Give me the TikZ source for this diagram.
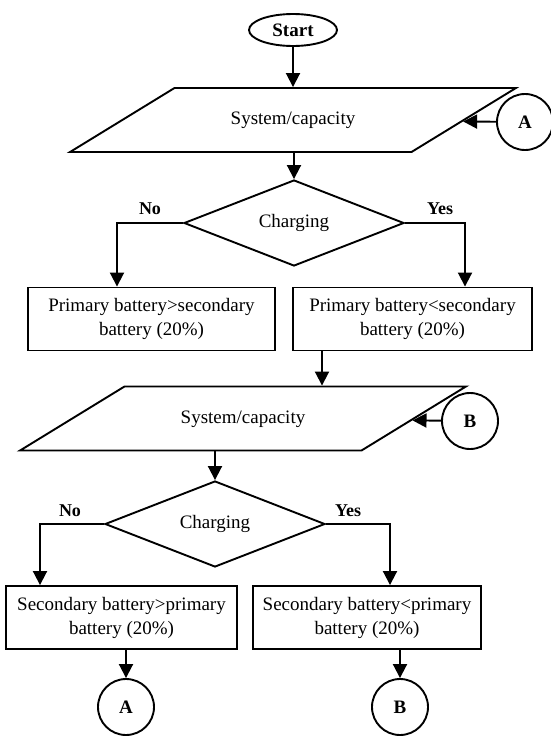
\documentclass[tikz,border=0pt]{standalone}
\usepackage{fontspec}
\setmainfont{Liberation Serif}
\usetikzlibrary{shapes.geometric,arrows.meta}

\begin{document}
\begin{tikzpicture}[x=1pt, y=-1pt, line width=1.9pt,
    every node/.style={font=\fontsize{19}{24}\selectfont},
    arr/.style={-{Triangle[width=14pt,length=14pt]}},
    terminal/.style={draw, ellipse, minimum width=88pt, minimum height=32pt, inner sep=0pt,
        font=\fontsize{19}{24}\selectfont\bfseries},
    io/.style={draw, trapezium, trapezium left angle=31.5, trapezium right angle=148.5,
        text width=125pt, align=center, text height=13pt, text depth=4pt,
        inner xsep=56pt, inner ysep=23.5pt},
    decision/.style={draw, diamond, aspect=2.56, minimum width=220pt, minimum height=86pt, inner sep=0pt},
    process/.style={draw, rectangle, align=center, minimum height=63pt},
    connector/.style={draw, circle, minimum size=56pt, inner sep=0pt,
        font=\fontsize{19}{24}\selectfont\bfseries},
    branch/.style={font=\fontsize{18}{22}\selectfont\bfseries}]
    \useasboundingbox (0, 0) rectangle (551, 736);

    % --- First stage (primary battery)
    \node[terminal] (start) at (293, 30) {Start};
    \node[io] (sys1) at (293, 120) {System/capacity};
    \node[connector] (A1) at (525, 122) {A};
    \node[decision] (chg1) at (294, 223) {Charging};
    \node[branch] (no1) at (150, 209) {No};
    \node[branch] (yes1) at (440, 209) {Yes};
    \node[process, minimum width=247pt] (pgts) at (151.5, 319) {Primary battery>secondary\\battery (20\%)};
    \node[process, minimum width=239pt] (plts) at (412.5, 319) {Primary battery<secondary\\battery (20\%)};

    \draw[arr] (start) -- (sys1);
    \draw[arr] (A1) -- (sys1);
    \draw[arr] (chg1.north |- sys1.bottom side) -- (chg1.north);
    \draw[arr] (chg1.west) -| ([xshift=-34.5pt]pgts.north);
    \draw[arr] (chg1.east) -| ([xshift=52.5pt]plts.north);

    % --- Second stage (secondary battery)
    \node[io] (sys2) at (243, 418.5) {System/capacity};
    \node[connector] (B1) at (470, 421) {B};
    \node[decision] (chg2) at (215, 524) {Charging};
    \node[branch] (no2) at (70, 511) {No};
    \node[branch] (yes2) at (348, 511) {Yes};
    \node[process, minimum width=231pt] (sgtp) at (121.5, 617.5) {Secondary battery>primary\\battery (20\%)};
    \node[process, minimum width=228pt] (sltp) at (367, 617.5) {Secondary battery<primary\\battery (20\%)};
    \node[connector] (A2) at (126, 707) {A};
    \node[connector] (B2) at (400, 707) {B};

    \draw[arr] ([xshift=-90.5pt]plts.south) -- ([xshift=-90.5pt]plts.south |- sys2.top side);
    \draw[arr] (B1) -- (sys2);
    \draw[arr] (chg2.north |- sys2.bottom side) -- (chg2.north);
    \draw[arr] (chg2.west) -| ([xshift=-81.5pt]sgtp.north);
    \draw[arr] (chg2.east) -| ([xshift=23pt]sltp.north);
    \draw[arr] (sgtp.south -| A2) -- (A2);
    \draw[arr] (sltp.south -| B2) -- (B2);
\end{tikzpicture}
\end{document}
